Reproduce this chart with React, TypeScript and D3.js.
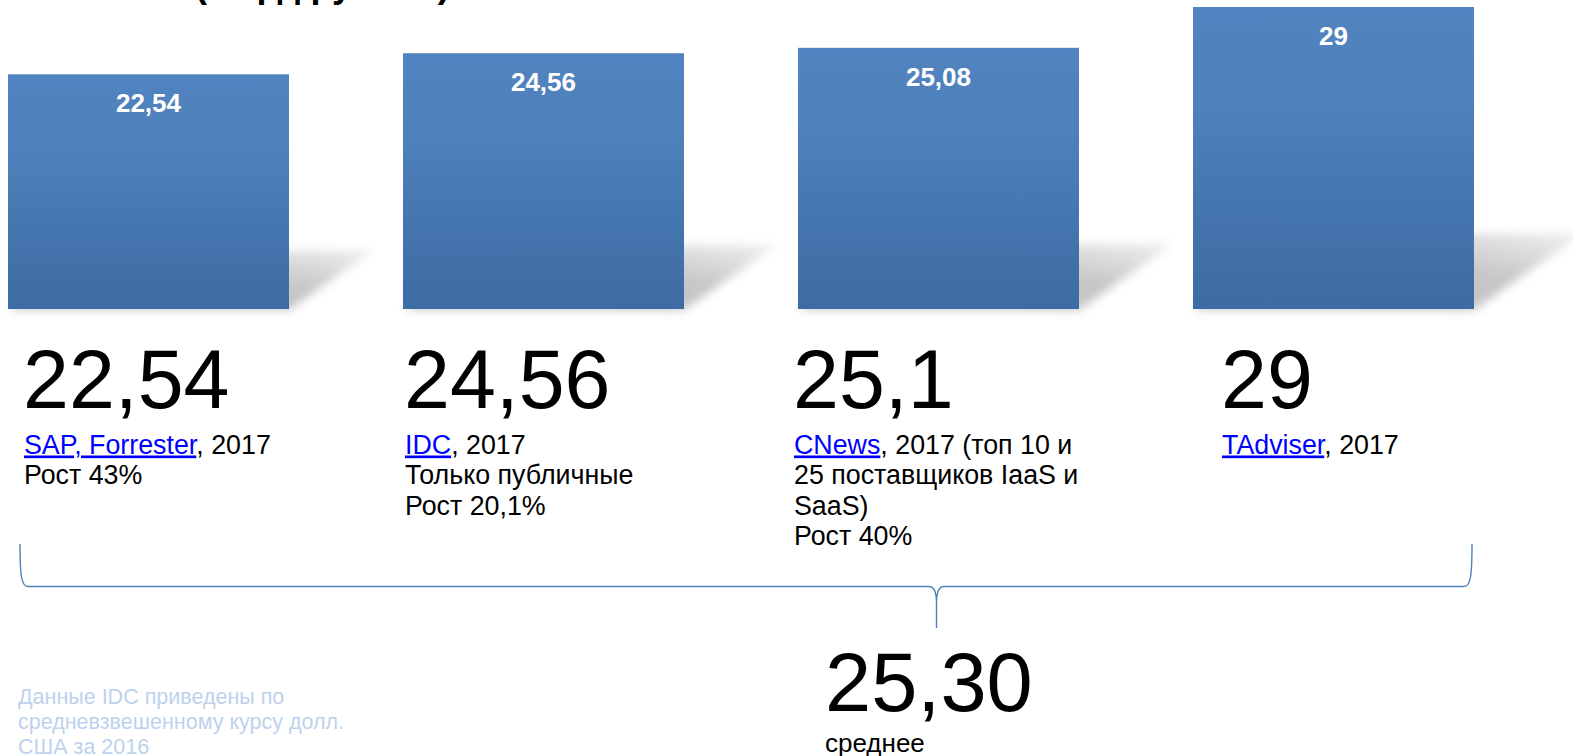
import React from "react";
import * as d3 from "d3";

// ---- data ----
const sources = ["SAP, Forrester", "IDC", "CNews", "TAdviser"];
const barValues = [22.54, 24.56, 25.08, 29];
const reportedValues = [22.54, 24.56, 25.1, 29];
const firstLineSuffix = [", 2017", ", 2017", ", 2017 (топ 10 и", ", 2017"];
const extraLines = [
  ["Рост 43%"],
  ["Только публичные", "Рост 20,1%"],
  ["25 поставщиков IaaS и", "SaaS)", "Рост 40%"],
  [],
];
const averageLabel = "среднее";
const footnoteLines = [
  "Данные IDC приведены по",
  "средневзвешенному курсу долл.",
  "США за 2016",
];
const titleText = "(млрд рублей)";

// ---- layout ----
const W = 1573;
const H = 756;
const FONT = "'Liberation Sans', Arial, Helvetica, sans-serif";
const colTextX = [23, 404, 793, 1221];

const ru = d3.formatLocale({
  decimal: ",",
  thousands: " ",
  grouping: [3],
  currency: ["", ""],
});
const fmtShort = ru.format("~r");
const fmtAvg = ru.format(".2f");

export default function App() {
  const x = d3
    .scaleBand<string>()
    .domain(sources)
    .range([8, 1474])
    .paddingInner(0.2886)
    .paddingOuter(0);
  const y = d3.scaleLinear().domain([0, 29]).range([309, 7]);
  const bw = x.bandwidth();
  const avg = d3.mean(reportedValues) as number;

  const brace =
    "M20,544 C20,576 21.5,586.5 28,586.5 L929,586.5 C934.5,586.5 936.5,592 936.5,603 L936.5,628 " +
    "M936.5,603 C936.5,592 938.5,586.5 944,586.5 L1464,586.5 C1470.5,586.5 1472,576 1472,544";

  return (
    <svg
      width={W}
      height={H}
      viewBox={`0 0 ${W} ${H}`}
      style={{ position: "absolute", left: 0, top: 0, display: "block", background: "#fff" }}
      fontFamily={FONT}
    >
      <defs>
        <linearGradient id="barGrad" x1="0" y1="0" x2="0" y2="1">
          <stop offset="0" stopColor="#5083bf" />
          <stop offset="0.3" stopColor="#4f81bc" />
          <stop offset="1" stopColor="#3d6ba3" />
        </linearGradient>
        <linearGradient id="shGrad" x1="0" y1="1" x2="1" y2="0">
          <stop offset="0" stopColor="#000" stopOpacity={0.26} />
          <stop offset="0.6" stopColor="#000" stopOpacity={0.22} />
          <stop offset="1" stopColor="#000" stopOpacity={0.06} />
        </linearGradient>
        <filter id="shBlur" x="-30%" y="-40%" width="160%" height="180%">
          <feGaussianBlur stdDeviation="5" />
        </filter>
      </defs>

      {/* clipped title */}
      <text x={195} y={-3} fontSize={36} fontWeight="bold" fill="#000">
        {titleText}
      </text>

      {/* shadows */}
      {sources.map((s, i) => {
        const x0 = x(s) as number;
        const x1 = x0 + bw;
        const b = y(0);
        const h = y(0) - y(barValues[i]);
        const dx = 0.36 * h;
        const dy = 0.25 * h;
        const pts = [
          [x0, b],
          [x1, b + 1],
          [x1 + dx, b - dy],
          [x0 + dx, b - dy],
        ]
          .map((p) => p.join(","))
          .join(" ");
        return (
          <polygon
            key={"sh" + i}
            points={pts}
            fill="url(#shGrad)"
            filter="url(#shBlur)"
          />
        );
      })}

      {/* bars */}
      {sources.map((s, i) => (
        <rect
          key={"b" + i}
          x={x(s)}
          y={y(barValues[i])}
          width={bw}
          height={y(0) - y(barValues[i])}
          fill="url(#barGrad)"
        />
      ))}

      {/* bar labels */}
      {sources.map((s, i) => (
        <text
          key={"bl" + i}
          x={(x(s) as number) + bw / 2}
          y={y(barValues[i]) + 38}
          textAnchor="middle"
          fontSize={26}
          fontWeight="bold"
          fill="#fff"
        >
          {fmtShort(barValues[i])}
        </text>
      ))}

      {/* columns of text */}
      {sources.map((s, i) => (
        <g key={"c" + i}>
          <text x={colTextX[i]} y={408} fontSize={82.5} fill="#000">
            {fmtShort(reportedValues[i])}
          </text>
          <text x={colTextX[i] + 1} y={453.5} fontSize={26.8} fill="#000">
            <tspan fill="#0000ff" textDecoration="underline" style={{ textDecoration: "underline" }}>
              {s}
            </tspan>
            <tspan>{firstLineSuffix[i]}</tspan>
          </text>
          {extraLines[i].map((ln, j) => (
            <text
              key={j}
              x={colTextX[i] + 1}
              y={453.5 + (j + 1) * 30.6}
              fontSize={26.8}
              fill="#000"
            >
              {ln}
            </text>
          ))}
        </g>
      ))}

      {/* brace */}
      <path d={brace} fill="none" stroke="#4f81bd" strokeWidth={1.4} />

      {/* average */}
      <text x={825} y={711} fontSize={83} fill="#000">
        {fmtAvg(avg)}
      </text>
      <text x={825} y={752} fontSize={26} fill="#000">
        {averageLabel}
      </text>

      {/* footnote */}
      {footnoteLines.map((ln, j) => (
        <text key={"f" + j} x={18} y={704 + j * 25} fontSize={21.5} fill="#bcd2ed">
          {ln}
        </text>
      ))}
    </svg>
  );
}
